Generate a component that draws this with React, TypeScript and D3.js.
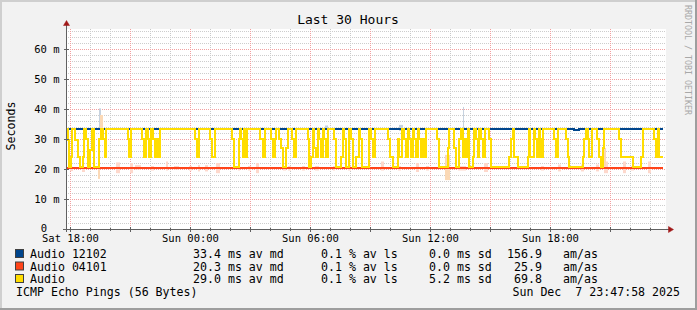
import React from 'react';
import * as d3 from 'd3';

const W = 697;
const H = 310;
const START = new Date(2025, 11, 6, 17, 47, 58);
const END = new Date(2025, 11, 7, 23, 47, 58);

// [minutes since start, ms]
const audio12102: [number, number][] = [[0, 33.4], [1524, 32.9], [1540, 33.4], [1790, 33.4]];
const audio04101: [number, number][] = [[0, 20.3], [1790, 20.3]];
const audio: [number, number][] = [
  [0, 33.5], [5, 29.8], [10, 20.8], [14, 24], [18, 33.5], [28, 29.8], [35, 24], [42, 20.8], [50, 24], [55, 33.5],
  [60, 30], [65, 20.8], [72, 26.5], [78, 33.5], [85, 20.8], [100, 30], [104, 33.5], [110, 30], [116, 24], [120, 33.5],
  [185, 30], [190, 24], [194, 33.5], [228, 30], [234, 24], [240, 33.5], [245, 30], [250, 24], [255, 33.5], [260, 30],
  [266, 24], [270, 30], [276, 24], [282, 33.5], [386, 30], [394, 24], [400, 33.5], [432, 30], [438, 24], [446, 33.5],
  [498, 30], [505, 20.8], [520, 30], [523, 33.5], [526, 30], [530, 24], [535, 33.5], [538, 28], [541, 24], [544, 33.5],
  [583, 30], [590, 24], [598, 33.5], [615, 30], [622, 24], [628, 30], [631, 33.5], [640, 30], [645, 27], [650, 20.8],
  [660, 27], [665, 33.5], [678, 30], [684, 24], [690, 33.5], [725, 30], [730, 20.8], [735, 24], [740, 33.5], [745, 27],
  [750, 24], [755, 33.5], [760, 30], [765, 24], [770, 33.5], [775, 30], [780, 24], [786, 33.5], [805, 30], [810, 20.8],
  [825, 24], [830, 33.5], [835, 30], [840, 20.8], [850, 33.5], [855, 30], [860, 20.8], [870, 24], [878, 33.5], [883, 30],
  [888, 20.8], [910, 33.5], [915, 30], [922, 24], [928, 33.5], [965, 30], [972, 24], [980, 20.8], [995, 30], [1000, 24],
  [1008, 33.5], [1015, 30], [1020, 24], [1026, 33.5], [1030, 30], [1035, 24], [1040, 33.5], [1045, 30], [1050, 24], [1056, 33.5],
  [1060, 30], [1065, 24], [1070, 30], [1075, 24], [1080, 33.5], [1112, 30], [1120, 20.8], [1145, 27], [1150, 33.5], [1165, 27],
  [1170, 20.8], [1180, 30], [1185, 33.5], [1190, 24], [1195, 30], [1200, 24], [1205, 33.5], [1210, 20.8], [1220, 24], [1225, 33.5],
  [1230, 30], [1235, 24], [1240, 33.5], [1245, 30], [1250, 24], [1256, 33.5], [1270, 30], [1276, 20.8], [1330, 24], [1335, 30],
  [1340, 33.5], [1345, 24], [1355, 20.8], [1385, 24], [1390, 33.5], [1393, 24], [1405, 33.5], [1408, 30], [1412, 24], [1418, 33.5],
  [1421, 30], [1425, 24], [1430, 33.5], [1465, 30], [1470, 24], [1476, 33.5], [1500, 30], [1505, 24], [1510, 20.8], [1550, 24],
  [1555, 30], [1560, 33.5], [1565, 30], [1570, 24], [1578, 33.5], [1593, 30], [1600, 24], [1605, 20.8], [1610, 27], [1615, 33.5],
  [1660, 30], [1665, 24], [1700, 20.8], [1725, 24], [1730, 33.5], [1765, 30], [1770, 24], [1775, 33.5], [1780, 24], [1790, 24],
];

// smoke: [start min, end min, low ms, high ms]
const smoke12102: [number, number, number, number][] = [
  [100, 104, 33.6, 40.2], [1000, 1010, 32.7, 34.7], [1190, 1195, 32, 40.7], [778, 785, 33, 34.5],
];
const smoke04101: [number, number, number, number][] = [
  [12, 20, 19.3, 20.8], [48, 58, 19, 20.5], [150, 162, 18.6, 22.2], [193, 200, 18.6, 22], [208, 225, 19.8, 21.3],
  [255, 265, 19.5, 21], [300, 306, 19.5, 22.5], [325, 340, 19.8, 21], [370, 378, 19.5, 21], [395, 402, 19.2, 21.3],
  [418, 426, 19.2, 21.3], [450, 462, 18.6, 22], [515, 522, 19.5, 21], [545, 555, 19.5, 21], [570, 580, 18.6, 22],
  [650, 660, 19.5, 21], [665, 675, 19.5, 21], [708, 718, 19.5, 21], [748, 758, 19.5, 21], [800, 808, 19.5, 21],
  [845, 855, 19.5, 21], [945, 955, 19.5, 22.5], [995, 1005, 19.5, 21], [1050, 1060, 19, 22], [1080, 1088, 19.5, 21],
  [1175, 1200, 19.5, 21], [1255, 1265, 19, 22], [1425, 1435, 19.5, 21], [1475, 1485, 19.2, 21.5], [1545, 1555, 19.2, 21.5],
  [1590, 1600, 19.2, 21.5], [1615, 1625, 18.6, 22.5], [1670, 1680, 18.6, 22.5], [1695, 1705, 19.5, 21], [1745, 1755, 18.6, 22.5],
];
const smokeAudio: [number, number, number, number][] = [
  [95, 103, 16.7, 20.8], [103, 110, 33.6, 38], [1138, 1152, 16.3, 24.7], [1612, 1620, 21, 27],
];

const yTicks = [0, 10, 20, 30, 40, 50, 60];
const yMax = 200 / 3;

const legendNames = ['Audio 12102', 'Audio 04101', 'Audio'];
const legendColors = ['#00458c', '#ff4419', '#ffdd00'];
const avgMd = ['33.4 ms av md', '20.3 ms av md', '29.0 ms av md'];
const avLs = ['0.1 % av ls', '0.1 % av ls', '0.1 % av ls'];
const sdVals = ['0.0 ms sd', '0.0 ms sd', '5.2 ms sd'];
const amasVals = ['156.9', '25.9', '69.8'];

const MONO = '"DejaVu Sans Mono", monospace';

export default function App() {
  const x = d3.scaleTime().domain([START, END]).range([66, 666]);
  const y = d3.scaleLinear().domain([0, yMax]).range([229, 29]);
  const t = (m: number) => new Date(START.getTime() + m * 60000);

  const line = d3
    .line<[number, number]>()
    .x((d) => Math.round(x(t(d[0]))))
    .y((d) => Math.round(y(d[1])))
    .curve(d3.curveStepAfter);

  const hours = d3.timeHour.range(START, END);
  const minorY = d3.range(2, yMax, 2).filter((v) => v % 10 !== 0);
  const majorY = yTicks.filter((v) => v > 0);

  const smokeRects = (arr: [number, number, number, number][], color: string, key: string) =>
    arr.map((s, i) => (
      <rect
        key={key + i}
        x={Math.round(x(t(s[0])))}
        width={Math.max(1, Math.round(x(t(s[1]))) - Math.round(x(t(s[0]))))}
        y={y(s[3])}
        height={y(s[2]) - y(s[3])}
        fill={color}
      />
    ));

  const rowY = [258, 270.5, 283];
  const fmt = d3.timeFormat('%a %H:%M');

  return (
    <svg width={W} height={H} style={{ position: 'absolute', left: 0, top: 0 }} fontFamily={MONO}>
      <rect x={0} y={0} width={W} height={H} fill="#f2f2f2" />
      {/* shade border */}
      <path d={`M0,0H${W}V2H2V${H}H0Z`} fill="#cfcfcf" />
      <path d={`M${W},${H}H0V${H - 2}H${W - 2}V0H${W}Z`} fill="#9e9e9e" />
      {/* canvas */}
      <rect x={66} y={29} width={600} height={200} fill="#ffffff" />

      {/* minor grid */}
      {hours
        .filter((h) => h.getHours() % 3 !== 0)
        .map((h, i) => {
          const xx = Math.round(x(h)) + 0.5;
          return <line key={'vm' + i} x1={xx} x2={xx} y1={29} y2={229} stroke="#c8c8c8" strokeDasharray="1,1" />;
        })}
      {minorY.map((v, i) => {
        const yy = Math.round(y(v)) + 0.5;
        return <line key={'hm' + i} x1={66} x2={666} y1={yy} y2={yy} stroke="#cdcdcd" strokeDasharray="1,1" />;
      })}
      {/* major grid */}
      {hours
        .filter((h) => h.getHours() % 3 === 0)
        .map((h, i) => {
          const xx = Math.round(x(h)) + 0.5;
          return <line key={'vM' + i} x1={xx} x2={xx} y1={29} y2={229} stroke="#f2a0a0" strokeDasharray="1,1" />;
        })}
      {majorY.map((v, i) => {
        const yy = Math.round(y(v)) + 0.5;
        return <line key={'hM' + i} x1={66} x2={666} y1={yy} y2={yy} stroke="#f2a0a0" strokeDasharray="1,1" />;
      })}

      {/* smoke */}
      {smokeRects(smoke04101, '#fdd8cc', 'sr')}
      {smokeRects(smoke12102, '#c6d2df', 'sb')}
      {smokeRects(smokeAudio, '#fbd9b6', 'sy')}

      {/* lines */}
      <path d={line(audio04101) || ''} fill="none" stroke={legendColors[1]} strokeWidth={2} />
      <path d={line(audio12102) || ''} fill="none" stroke={legendColors[0]} strokeWidth={2} />
      <path d={line(audio) || ''} fill="none" stroke={legendColors[2]} strokeWidth={2} />

      {/* axes */}
      <line x1={66.5} x2={66.5} y1={24} y2={232} stroke="#606060" />
      <line x1={63} x2={669} y1={229.5} y2={229.5} stroke="#606060" />
      <path d="M63.5,25.5 L66.5,20.5 L69.5,25.5 Z" fill="#a01818" stroke="#a01818" strokeWidth={0.5} />
      <path d="M668.5,226.5 L673.5,229.5 L668.5,232.5 Z" fill="#a01818" stroke="#a01818" strokeWidth={0.5} />
      {majorY.map((v, i) => {
        const yy = Math.round(y(v)) + 0.5;
        return <line key={'yt' + i} x1={64} x2={69} y1={yy} y2={yy} stroke="#606060" />;
      })}
      {hours.map((h, i) => {
        const xx = Math.round(x(h)) + 0.5;
        const major = h.getHours() % 3 === 0;
        return <line key={'xt' + i} x1={xx} x2={xx} y1={major ? 227 : 228} y2={major ? 232 : 231} stroke="#606060" />;
      })}

      {/* y labels */}
      {yTicks.map((v, i) => (
        <text key={'yl' + i} x={v === 0 ? 47 : 59.5} y={Math.round(y(v)) + (v === 0 ? 3 : 4)} fontSize={10.5} textAnchor="end" fill="#000">
          {v === 0 ? '0' : `${v} m`}
        </text>
      ))}
      {/* x labels */}
      {hours
        .filter((h) => h.getHours() % 6 === 0)
        .map((h, i) => (
          <text key={'xl' + i} x={Math.round(x(h)) + 0.5} y={241.5} fontSize={10.5} textAnchor="middle" fill="#000">
            {fmt(h)}
          </text>
        ))}

      {/* title */}
      <text x={348} y={24} fontSize={13} textAnchor="middle" fill="#000">Last 30 Hours</text>
      <text transform="translate(14.5,126) rotate(-90)" fontSize={11.6} textAnchor="middle" fill="#000">Seconds</text>
      <text transform="translate(685,5) rotate(90)" fontSize={8.3} fill="#a8a8a8">RRDTOOL / TOBI OETIKER</text>

      {/* legend */}
      {legendNames.map((n, i) => (
        <g key={'lg' + i} fontSize={11.6} fill="#000">
          <rect x={15.5} y={rowY[i] - 8.5} width={8} height={8} fill={legendColors[i]} stroke="#404040" strokeWidth={1} />
          <text x={30} y={rowY[i]}>{n}</text>
          <text x={193} y={rowY[i]}>{avgMd[i]}</text>
          <text x={321} y={rowY[i]}>{avLs[i]}</text>
          <text x={429} y={rowY[i]}>{sdVals[i]}</text>
          <text x={542} y={rowY[i]} textAnchor="end">{amasVals[i]}</text>
          <text x={563} y={rowY[i]}>am/as</text>
        </g>
      ))}
      <text x={16} y={295.5} fontSize={11.6} fill="#000">ICMP Echo Pings (56 Bytes)</text>
      <text x={680} y={295.5} fontSize={11.6} textAnchor="end" fill="#000" xmlSpace="preserve" style={{ whiteSpace: 'pre' }}>
        {'Sun Dec  7 23:47:58 2025'}
      </text>
    </svg>
  );
}
